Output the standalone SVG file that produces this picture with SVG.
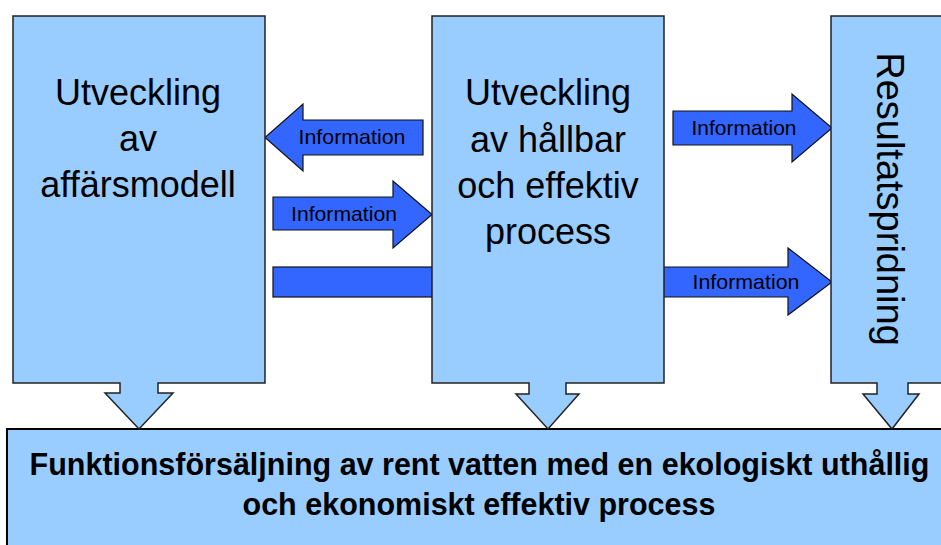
<svg xmlns="http://www.w3.org/2000/svg" width="941" height="545" viewBox="0 0 941 545">
  <style>
    .box { fill: #99CCFF; stroke: #222; stroke-width: 1.5; }
    .arrow { fill: #3366FF; stroke: #111; stroke-width: 1.2; }
    .big { font-family: "Liberation Sans", Arial, sans-serif; font-size: 36px; fill: #000; text-anchor: middle; }
    .info { font-family: "Liberation Sans", Arial, sans-serif; font-size: 21px; fill: #000; text-anchor: middle; }
    .goal { font-family: "Liberation Sans", Arial, sans-serif; font-weight: bold; font-size: 30.5px; fill: #000; text-anchor: middle; }
  </style>
  <rect width="941" height="545" fill="#ffffff"/>

  <!-- Goal box at the bottom -->
  <g id="goal">
    <rect x="7" y="429" width="936" height="118" fill="#99CCFF" stroke="#000" stroke-width="2"/>
    <text class="goal" x="479.5" y="475">Funktionsförsäljning av rent vatten med en ekologiskt uthållig</text>
    <text class="goal" x="479" y="515">och ekonomiskt effektiv process</text>
  </g>

  <!-- Connectors between the work packages -->
  <g id="connectors">
    <rect class="arrow" x="273" y="267" width="165" height="30"/>
    <polygon class="arrow" points="423,120 303,120 303,104 265,137.5 303,171 303,155 423,155"/>
    <polygon class="arrow" points="273,197 393,197 393,181 432,214.5 393,248 393,230 273,230"/>
    <polygon class="arrow" points="673,111 792,111 792,94 832,128 792,162 792,145 673,145"/>
    <polygon class="arrow" points="660,267 788,267 788,248 832,282 788,315 788,297 660,297"/>
    <text class="info" x="352" y="144" textLength="107" lengthAdjust="spacingAndGlyphs">Information</text>
    <text class="info" x="344" y="221" textLength="106" lengthAdjust="spacingAndGlyphs">Information</text>
    <text class="info" x="744" y="135" textLength="105" lengthAdjust="spacingAndGlyphs">Information</text>
    <text class="info" x="746" y="289" textLength="107" lengthAdjust="spacingAndGlyphs">Information</text>
  </g>

  <!-- Business model package -->
  <g id="affarsmodell">
    <polygon class="box" points="13,16 265,16 265,383 158,383 158,393 173,393 139,429 105,393 120,393 120,383 13,383"/>
    <text class="big" x="138" y="105">Utveckling</text>
    <text class="big" x="138" y="151">av</text>
    <text class="big" x="138" y="197">affärsmodell</text>
  </g>

  <!-- Process package -->
  <g id="process">
    <polygon class="box" points="432,16 664,16 664,383 566,383 566,394 579,394 548,429 516,394 529,394 529,383 432,383"/>
    <text class="big" x="548" y="105">Utveckling</text>
    <text class="big" x="548" y="152">av hållbar</text>
    <text class="big" x="548" y="198">och effektiv</text>
    <text class="big" x="548" y="244">process</text>
  </g>

  <!-- Dissemination package -->
  <g id="resultatspridning">
    <polygon class="box" points="831,16 960,16 960,383 908,383 908,394 919,394 892,429 863,394 877,394 877,383 831,383"/>
    <text class="big" style="font-size:38px" transform="translate(877,199) rotate(90)" x="0" y="0">Resultatspridning</text>
  </g>
</svg>
